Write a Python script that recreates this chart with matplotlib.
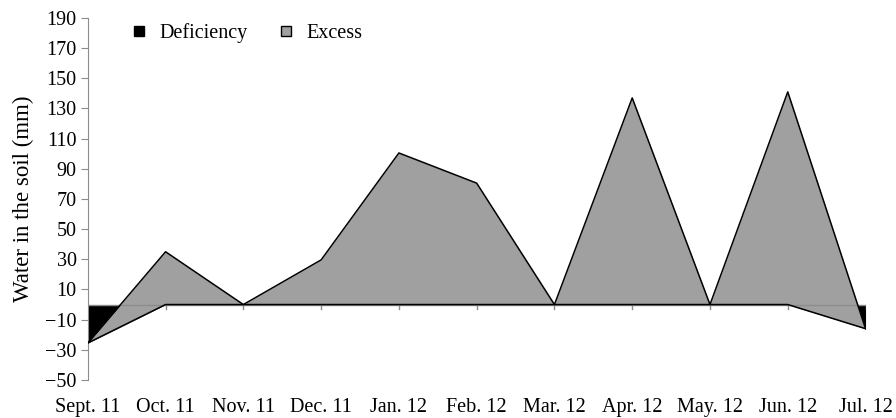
import numpy as np
import matplotlib.pyplot as plt
from matplotlib.lines import Line2D

plt.rcParams['font.family'] = ['Liberation Serif', 'DejaVu Serif']

# Datos
months = ["Sept. 11", "Oct. 11", "Nov. 11", "Dec. 11", "Jan. 12", "Feb. 12",
          "Mar. 12", "Apr. 12", "May. 12", "Jun. 12", "Jul. 12"]
deficiency = np.array([-25.5, 0, 0, 0, 0, 0, 0, 0, 0, 0, -16])
excess = np.array([0, 35, 0, 29.6, 100.5, 80.5, 0, 137, 0, 141, 0])

x = np.arange(len(months))
top = deficiency + excess

fig = plt.figure(figsize=(8.96, 4.18), dpi=100)
ax = fig.add_axes([0.098, 0.091, 0.868, 0.866])

# Área apilada (estilo Excel)
ax.fill_between(x, 0, deficiency, color="black", lw=0, zorder=2)
ax.fill_between(x, deficiency, top, color="#a0a0a0", lw=0, zorder=3)
ax.plot(x, top, color="black", lw=1.1, zorder=4)
ax.plot(x, deficiency, color="black", lw=1.1, zorder=4)
ax.axhline(0, color="#8c8c8c", lw=1.0, zorder=3.5)

ax.set_xlim(0, len(months) - 1)
ax.set_ylim(-50, 190)
ax.set_yticks(np.arange(-50, 191, 20))
ax.set_yticklabels([str(v).replace("-", "\u2212") for v in range(-50, 191, 20)])

for s in ["top", "right", "bottom"]:
    ax.spines[s].set_visible(False)
ax.spines["left"].set_color("#8c8c8c")
ax.tick_params(axis="y", length=5, color="#8c8c8c", labelsize=14.5, pad=3)

ax.set_xticks(x)
ax.xaxis.set_ticks_position("none")
ax.tick_params(axis="x", labelbottom=False)
# las marcas del eje x quedan en 0
for xi in x[1:]:
    ax.axvline(xi, ymin=50 / 240 - 4 / 362, ymax=50 / 240, color="#8c8c8c", lw=1)

sec = ax.secondary_xaxis(0)
sec.set_xticks(x, months)
sec.tick_params(length=0, labelsize=14.5, pad=13)
sec.spines["bottom"].set_visible(False)

ax.set_ylabel("Water in the soil (mm)", fontsize=16.5, labelpad=8)

handles = [
    Line2D([], [], marker="s", ls="", markersize=7.5, markerfacecolor="black", markeredgecolor="black"),
    Line2D([], [], marker="s", ls="", markersize=7.5, markerfacecolor="#a0a0a0", markeredgecolor="black"),
]
ax.legend(handles, ["Deficiency", "Excess"], ncol=2, frameon=False, fontsize=14.5,
          loc="upper left", bbox_to_anchor=(0.03, 1.035), columnspacing=1.4,
          handletextpad=0.5, handlelength=1.0)

fig.savefig("out.png", dpi=100)
